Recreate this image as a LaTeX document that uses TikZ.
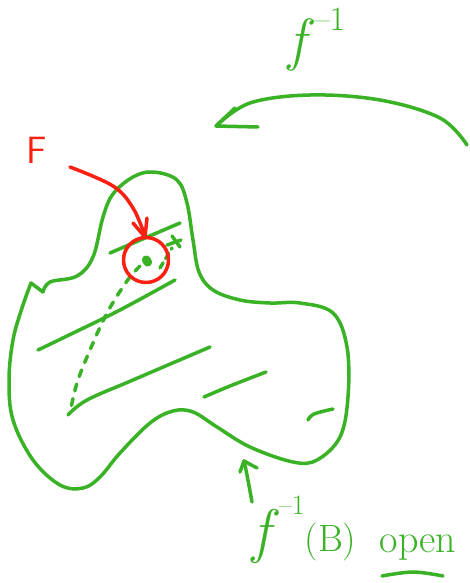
\documentclass[tikz,border=0pt]{standalone}
\usepackage{fontspec}
\begin{document}
\begin{tikzpicture}[x=1pt,y=-1pt,
  gline/.style={draw=penGreen,line width=3.5pt,line cap=round,line join=round},
  rline/.style={draw=penRed,line width=3.5pt,line cap=round,line join=round},
  dashline/.style={gline,dash pattern=on 7pt off 8pt},
  gtext/.style={text=penGreen,inner sep=0pt},
]
\definecolor{penGreen}{RGB}{58,178,38}
\definecolor{penRed}{RGB}{250,32,18}
\useasboundingbox (0,0) rectangle (469,583);
\fill[white] (0,0) rectangle (469,583);

% blob outline
\draw[gline] plot[smooth, tension=0.6] coordinates {
 (43,292) (50,282) (77,276) (93,257) (103,217) (113,194) (133,177) (153,172)
 (177,180) (187,203) (193,240) (199,272) (213,290) (240,300) (270,303)
 (300,303) (333,313) (347,347) (348,397) (340,437) (317,460) (293,462)
 (250,447) (217,427) (193,412) (173,411) (150,423) (120,453) (100,477)
 (83,488) (60,485) (33,460) (13,420) (9,380) (13,340) (22,308) (31,283)};
\draw[gline] (31,283) -- (43,292);

% hatch lines
\draw[gline] (110,253) -- (180,223);
\draw[gline] plot[smooth,tension=0.6] coordinates {(38,350) (67,336) (120,310) (175,280)};
\draw[gline] plot[smooth,tension=0.6] coordinates {(68,415) (87,400) (133,380) (210,347)};
\draw[gline] plot[smooth,tension=0.6] coordinates {(204,397) (230,386) (266,372)};
\draw[gline] plot[smooth,tension=0.6] coordinates {(308,420) (314,414) (333,409)};

% dashed path from point
\draw[dashline] plot[smooth,tension=0.6] coordinates {(140,266) (127,281) (107,313) (90,350) (77,383) (70,413)};
\draw[dashline,dash pattern=on 6pt off 5pt] (160,268) -- (172,248);
\draw[gline] (172,236) -- (180,247);
\draw[gline] (167,245) -- (181,240);
\fill[penGreen,rotate around={30:(147,261)}] (147,261) ellipse (4.5pt and 6pt);

% red circle and arrow
\draw[rline] (146,260) circle (22.5);
\draw[rline] plot[smooth,tension=0.6] coordinates {(70,167) (113,186) (133,208) (145,236)};
\draw[rline] (133,223) -- (145,237) -- (147,218);
\node[text=penRed,inner sep=0pt,font=\fontsize{38}{38}\selectfont\sffamily] (F) at (37,150) {F};

% top arrow f^{-1}
\draw[gline] plot[smooth,tension=0.6] coordinates {(467,145) (440,118) (380,100) (310,95) (250,103) (216,126)};
\draw[gline] (235,108) -- (216,126) -- (258,127);
\node[gtext,anchor=base west,font=\fontsize{58}{58}\selectfont] (finv) at (288,60)
  {\textit{f}\raisebox{0.5em}{\fontsize{34}{34}\selectfont –1}};

% bottom arrow and label
\draw[gline] plot[smooth,tension=0.6] coordinates {(252,502) (247,475) (244,461)};
\draw[gline] (240,472) -- (244,461) -- (257,468);
\node[gtext,anchor=base west,font=\fontsize{38}{38}\selectfont] (fB) at (252,551)
  {{\fontsize{60}{60}\selectfont\textit{f}}\raisebox{0.95em}{\fontsize{28}{28}\selectfont –1}(B)};
\node[gtext,font=\fontsize{40}{40}\selectfont,anchor=base] (open) at (418,552) {open};
\draw[gline] plot[smooth,tension=0.6] coordinates {(382,576) (413,572) (443,576)};
\end{tikzpicture}
\end{document}
